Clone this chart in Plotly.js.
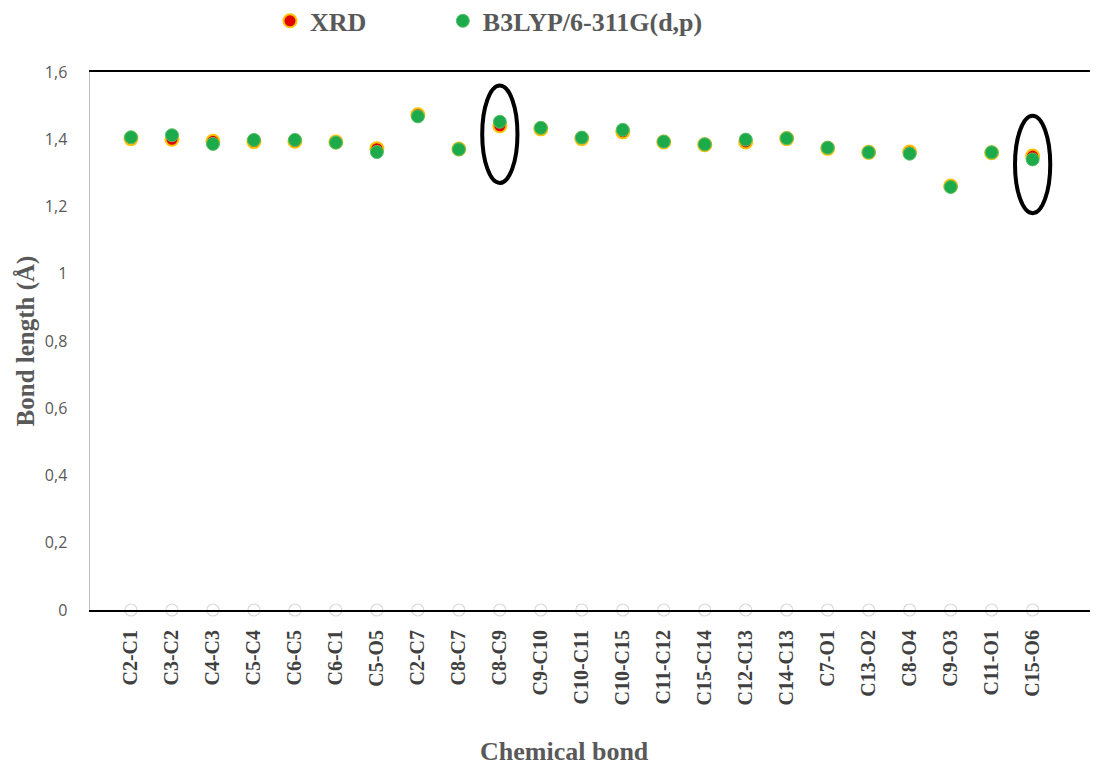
<!DOCTYPE html>
<html>
<head>
<meta charset="utf-8">
<script src="https://cdn.plot.ly/plotly-3.0.1.min.js"></script>
<style>html,body{margin:0;padding:0;background:#fff;}#chart{width:1105px;height:765px;}</style>
</head>
<body>
<div id="chart"></div>
<script>
const bonds = ["C2-C1","C3-C2","C4-C3","C5-C4","C6-C5","C6-C1","C5-O5","C2-C7","C8-C7","C8-C9","C9-C10","C10-C11","C10-C15","C11-C12","C15-C14","C12-C13","C14-C13","C7-O1","C13-O2","C8-O4","C9-O3","C11-O1","C15-O6"];
const xrd   = [1.402,1.400,1.394,1.393,1.394,1.392,1.372,1.473,1.371,1.440,1.431,1.402,1.422,1.392,1.384,1.392,1.402,1.373,1.361,1.362,1.261,1.360,1.350];
const b3lyp = [1.406,1.412,1.386,1.398,1.398,1.390,1.362,1.468,1.370,1.452,1.434,1.405,1.428,1.393,1.385,1.399,1.403,1.375,1.361,1.357,1.258,1.361,1.340];
const baseline = [0,0,0,0,0,0,0,0,0,0,0,0,0,0,0,0,0,0,0,0,0,0,0];
const highlighted = ["C8-C9","C15-O6"];
const yTicks = [0,0.2,0.4,0.6,0.8,1,1.2,1.4,1.6];
const seriesNames = ["XRD", "B3LYP/6-311G(d,p)"];

const serif = "Liberation Serif, Times New Roman, serif";
const gray = "#595959";
const pad = "\u00a0".repeat(11);

const traces = [
  {x: bonds, y: baseline, type: "scatter", mode: "markers", showlegend: false, hoverinfo: "skip",
   marker: {size: 12, color: "rgba(255,255,255,0)", line: {color: "#d9d9d9", width: 1.2}}, cliponaxis: false},
  {x: bonds, y: xrd, name: seriesNames[0] + pad, type: "scatter", mode: "markers",
   marker: {size: 13, color: "#e00000", line: {color: "#ffc000", width: 2}}},
  {x: bonds, y: b3lyp, name: seriesNames[1], type: "scatter", mode: "markers",
   marker: {size: 13, color: "#1daa4a", line: {color: "#5cbf6a", width: 1}}}
];

const shapes = highlighted.map(b => {
  const i = bonds.indexOf(b);
  return {type: "circle", xref: "x", yref: "y", x0: i - 0.43, x1: i + 0.43,
          y0: xrd[i] - 0.17, y1: xrd[i] + 0.12, line: {color: "#000", width: 4}};
});

const layout = {
  width: 1105, height: 765,
  paper_bgcolor: "#fff", plot_bgcolor: "#fff",
  separators: ", ",
  margin: {l: 90, r: 15, t: 72, b: 155, autoexpand: false},
  showlegend: true,
  legend: {orientation: "h", x: 0.18, y: 1.095, xanchor: "left", yanchor: "middle",
           font: {family: serif, size: 26, color: gray, weight: "bold"}, itemwidth: 30},
  xaxis: {type: "category", range: [-1, 23.4], showgrid: false, zeroline: false,
          showline: true, linecolor: "#000", linewidth: 2, mirror: true,
          ticks: "", tickangle: -90, ticklabelstandoff: 10,
          tickfont: {family: serif, size: 20, color: "#404040", weight: "bold"}},
  yaxis: {range: [0, 1.6], tickvals: yTicks, showgrid: false, zeroline: false,
          showline: true, linecolor: "#bfbfbf", linewidth: 1.5,
          ticks: "", ticklabelstandoff: 18,
          tickfont: {family: "Open Sans, Liberation Sans, sans-serif", size: 16, color: gray},
          title: {text: "<b>Bond length (Å)</b>", font: {family: serif, size: 25, color: gray}, standoff: 3}},
  annotations: [{text: "<b>Chemical bond</b>", xref: "paper", yref: "paper", x: 0.474, y: -0.263,
                 xanchor: "center", yanchor: "middle", showarrow: false,
                 font: {family: serif, size: 26, color: gray}}],
  shapes: shapes
};

Plotly.newPlot("chart", traces, layout, {displayModeBar: false, staticPlot: true});
</script>
</body>
</html>
